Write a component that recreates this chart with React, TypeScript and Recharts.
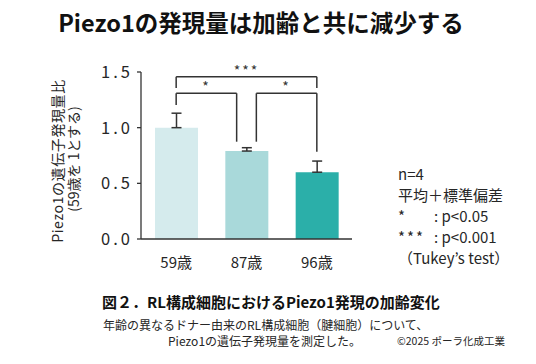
import { ComposedChart, Bar, Cell, XAxis, YAxis, ErrorBar, ReferenceLine, ReferenceDot } from "recharts";

const ages = ["59歳", "87歳", "96歳"];
const means = [1.0, 0.79, 0.6];
const sds = [0.13, 0.03, 0.1];
const barColors = ["#d5ebed", "#a9d9da", "#2bafa9"];
const yTicks = [0, 0.5, 1.0, 1.5];

// significance brackets, in category units (0 = 59歳 ... 2 = 96歳) and ratio units
const brFrom = [0, 0, 1.14];
const brTo = [2, 0.86, 2];
const brTop = [1.458, 1.309, 1.309];
const brLeftEnd = [1.357, 1.204, 0.874];
const brRightEnd = [1.357, 0.874, 0.784];
const brLabels = ["***", "*", "*"];

const legendLines = ["n=4", "平均＋標準偏差"];
const sigMarks = ["*", "***"];
const sigTexts = [": p<0.05", ": p<0.001"];

const data = ages.map((age, i) => ({ age, pos: i, value: means[i], err: [0, sds[i]] }));

const FONT = '"Noto Sans CJK JP", "Noto Sans", sans-serif';
const INK = "#262626";

function YLabel() {
  return (
    <g>
      <text x={57} y={161} transform="rotate(-90 57 161)" textAnchor="middle" dominantBaseline="central" fontSize={14} letterSpacing={0.6} fill={INK} fontFamily={FONT}>
        Piezo1の遺伝子発現量比
      </text>
      <text x={73} y={159} transform="rotate(-90 73 159)" textAnchor="middle" dominantBaseline="central" fontSize={14} fill={INK} fontFamily={FONT}>
        (59歳を 1とする)
      </text>
    </g>
  );
}

export default function App() {
  return (
    <div style={{ position: "absolute", left: 0, top: 0, width: 536, height: 364, background: "#fff", fontFamily: FONT, color: INK }}>
      <div style={{ position: "absolute", left: 0, top: 6, width: 522, textAlign: "center", fontSize: 23.5, fontWeight: 700, lineHeight: "32px", color: "#111" }}>
        Piezo1の発現量は加齢と共に減少する
      </div>

      <div style={{ position: "absolute", left: 0, top: 0 }}>
        <ComposedChart width={536} height={364} data={data} margin={{ top: 72, right: 184, left: 0, bottom: 95 }}>
          <XAxis
            dataKey="age"
            height={30}
            tickLine={false}
            axisLine={{ stroke: "#333", strokeWidth: 1.3 }}
            tick={{ fontSize: 15, fill: INK, fontFamily: FONT }}
            tickMargin={12}
          />
          <XAxis xAxisId="num" dataKey="pos" type="number" domain={[-0.5, 2.5]} allowDataOverflow hide padding={{ left: 0, right: 0 }} />
          <YAxis
            width={141}
            domain={[0, 1.5]}
            ticks={yTicks}
            tickFormatter={(v) => v.toFixed(1)}
            tickSize={4}
            tickMargin={4}
            axisLine={{ stroke: "#333", strokeWidth: 1.3 }}
            tickLine={{ stroke: "#333", strokeWidth: 1.3 }}
            tick={{ fontSize: 16.5, fill: INK, fontFamily: FONT, letterSpacing: 3 }}
            label={<YLabel />}
          />
          <Bar dataKey="value" barSize={43} isAnimationActive={false}>
            {data.map((d, i) => (
              <Cell key={d.age} fill={barColors[i]} />
            ))}
            <ErrorBar dataKey="err" direction="y" width={5} stroke="#333" strokeWidth={1.5} isAnimationActive={false} />
          </Bar>
          {brLabels.map((lab, i) => [
            <ReferenceLine key={`l${i}`} xAxisId="num" stroke="#333" strokeWidth={1.5} segment={[{ x: brFrom[i], y: brLeftEnd[i] }, { x: brFrom[i], y: brTop[i] }]} />,
            <ReferenceLine key={`t${i}`} xAxisId="num" stroke="#333" strokeWidth={1.5} segment={[{ x: brFrom[i], y: brTop[i] }, { x: brTo[i], y: brTop[i] }]} />,
            <ReferenceLine key={`r${i}`} xAxisId="num" stroke="#333" strokeWidth={1.5} segment={[{ x: brTo[i], y: brTop[i] }, { x: brTo[i], y: brRightEnd[i] }]} />,
            <ReferenceDot
              key={`d${i}`}
              xAxisId="num"
              x={(brFrom[i] + brTo[i]) / 2}
              y={brTop[i]}
              r={0}
              stroke="none"
              label={{ value: lab, position: "top", offset: 1, fontSize: 14, fill: "#333", fontFamily: FONT, letterSpacing: 2 }}
            />,
          ])}
        </ComposedChart>
      </div>

      <div style={{ position: "absolute", left: 398, top: 163, fontSize: 15, lineHeight: "21px" }}>
        {legendLines.map((t) => (
          <div key={t}>{t}</div>
        ))}
        {sigMarks.map((m, i) => (
          <div key={m}>
            <span style={{ display: "inline-block", width: 36, letterSpacing: 2 }}>{m}</span>
            {sigTexts[i]}
          </div>
        ))}
        <div>（Tukey’s test）</div>
      </div>

      <div style={{ position: "absolute", left: 102, top: 291, fontSize: 15, fontWeight: 700, lineHeight: "22px", color: "#111" }}>
        図２．RL構成細胞におけるPiezo1発現の加齢変化
      </div>
      <div style={{ position: "absolute", left: 103, top: 316, fontSize: 12, lineHeight: "17px" }}>
        年齢の異なるドナー由来のRL構成細胞（腱細胞）について、
      </div>
      <div style={{ position: "absolute", left: 168, top: 332, fontSize: 12, lineHeight: "17px" }}>
        Piezo1の遺伝子発現量を測定した。
      </div>
      <div style={{ position: "absolute", left: 397, top: 333, fontSize: 10.5, lineHeight: "15px" }}>
        ©2025 ポーラ化成工業
      </div>
    </div>
  );
}
